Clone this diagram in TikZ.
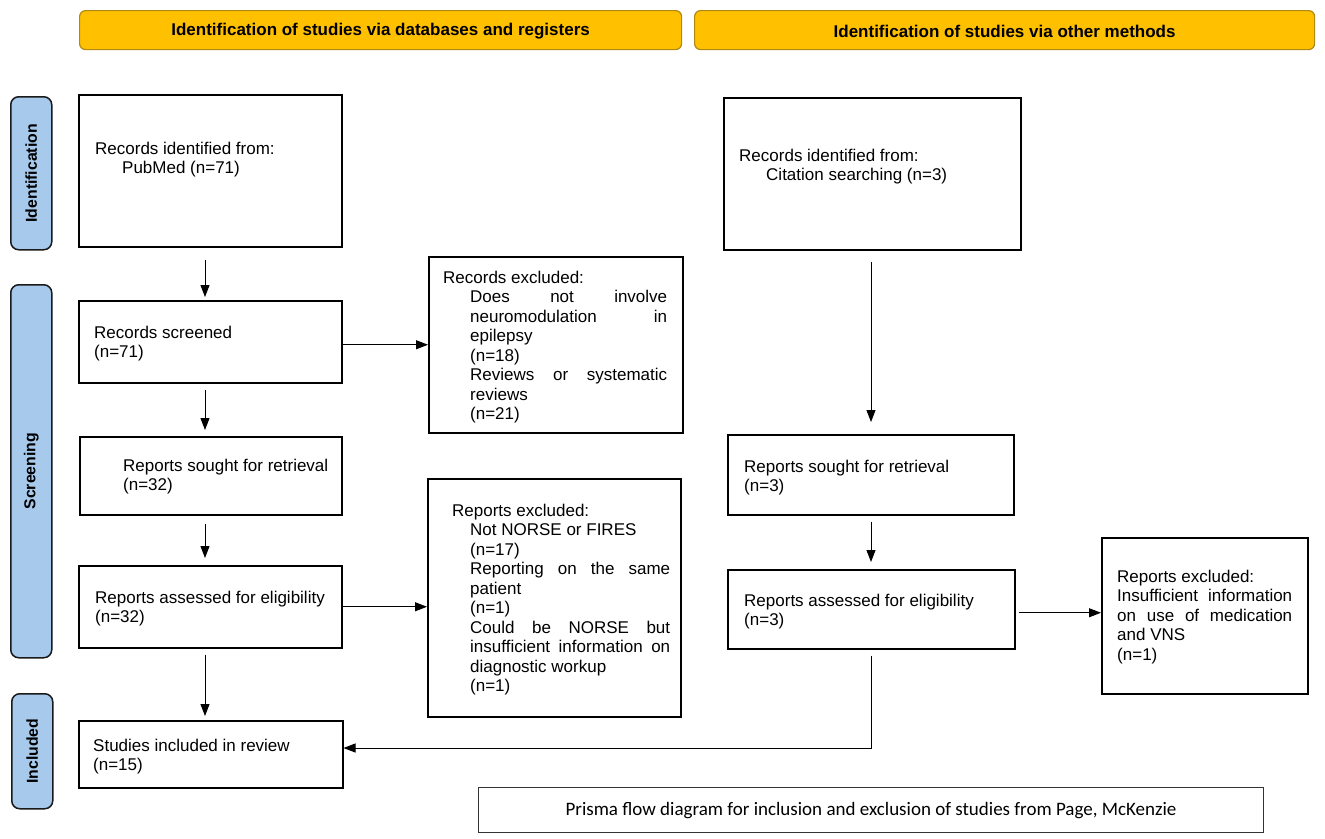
\documentclass[tikz,border=0pt]{standalone}
\usepackage{fontspec}
\setmainfont{Liberation Sans}
\newfontfamily\capfont{Carlito}
\usetikzlibrary{arrows.meta,calc}
\definecolor{hdrfill}{HTML}{FFC000}
\definecolor{hdrdraw}{HTML}{B08A10}
\definecolor{sidefill}{HTML}{A6C9EC}
\definecolor{sidedraw}{HTML}{1A1A1A}
\newcommand\jb[2]{\makebox[#1][s]{#2}}
\hyphenpenalty=10000
\begin{document}
\begin{tikzpicture}[x=1pt,y=-1pt,
  box/.style={draw=black,line width=1.5pt,inner sep=0pt,anchor=north west},
  capbox/.style={draw=black!80,line width=1.1pt,inner sep=0pt,anchor=north west},
  hdr/.style={draw=hdrdraw,fill=hdrfill,line width=1.2pt,rounded corners=6pt,inner sep=0pt,anchor=north west},
  hdrtxt/.style={inner sep=0pt,font=\bfseries\fontsize{17}{19}\selectfont},
  side/.style={draw=sidedraw,fill=sidefill,line width=1.5pt,rounded corners=8pt,inner sep=0pt,anchor=north west},
  sidetxt/.style={rotate=90,inner sep=0pt,font=\bfseries\fontsize{15.8}{17}\selectfont},
  txt/.style={inner sep=0pt,anchor=base west,font=\fontsize{17}{19.5}\selectfont},
  arr/.style={line width=1pt,-{Triangle[width=9pt,length=12pt]}},
  ln/.style={line width=1pt}
]
\useasboundingbox (0,0) rectangle (1325,838);
\fill[white] (0,0) rectangle (1325,838);

% headers
\node[hdr,minimum width=602pt,minimum height=39pt] (h1) at (79,10) {};
\node[hdrtxt] (h1t) at ([yshift=-1pt]h1.center) {Identification of studies via databases and registers};
\node[hdr,minimum width=620pt,minimum height=39pt] (h2) at (694,10) {};
\node[hdrtxt] (h2t) at ([yshift=-1pt]h2.center) {Identification of studies via other methods};

% side bars
\node[side,minimum width=41pt,minimum height=153pt] (s1) at (10,96) {};
\node[sidetxt] (s1t) at (s1.center) {Identification};
\node[side,minimum width=41pt,minimum height=373pt] (s2) at (10,284) {};
\node[sidetxt] (s2t) at (s2.center) {Screening};
\node[side,minimum width=41pt,minimum height=115pt] (s3) at (11,693) {};
\node[sidetxt] (s3t) at (s3.center) {Included};

% left column boxes
\node[box,minimum width=263pt,minimum height=152pt] (A) at (78,94) {};
\node[box,minimum width=263pt,minimum height=82pt] (B) at (78,300) {};
\node[box,minimum width=254pt,minimum height=176pt] (C) at (428,256) {};
\node[box,minimum width=262pt,minimum height=78pt] (D) at (79,436) {};
\node[box,minimum width=263pt,minimum height=82pt] (E) at (78,565) {};
\node[box,minimum width=253pt,minimum height=238pt] (F) at (427,478) {};
\node[box,minimum width=264pt,minimum height=67pt] (G) at (78,720) {};

% right column boxes
\node[box,minimum width=297pt,minimum height=152pt] (H) at (723,97) {};
\node[box,minimum width=286pt,minimum height=80pt] (I) at (727,434) {};
\node[box,minimum width=287pt,minimum height=79pt] (J) at (727,569) {};
\node[box,minimum width=206pt,minimum height=156pt] (K) at (1101,537) {};

% caption
\node[capbox,minimum width=785pt,minimum height=45pt] (cap) at (478,787) {};
\node[inner sep=0pt,font=\capfont\fontsize{19}{22}\selectfont] (capt) at (cap.center) {Prisma flow diagram for inclusion and exclusion of studies from Page, McKenzie};

% texts
\node[txt] (tA) at (95,154) {\parbox[t]{240pt}{\raggedright Records identified from:\\\hspace*{27pt}PubMed (n=71)}};
\node[txt] (tB) at (94,338) {\parbox[t]{240pt}{\raggedright Records screened\\(n=71)}};
\node[txt] (tC) at (443,283) {\parbox[t]{235pt}{\raggedright Records excluded:\\
\hspace*{27pt}\jb{197pt}{Does not involve}\\
\hspace*{27pt}\jb{197pt}{neuromodulation in}\\
\hspace*{27pt}epilepsy\\
\hspace*{27pt}(n=18)\\
\hspace*{27pt}\jb{197pt}{Reviews or systematic}\\
\hspace*{27pt}reviews\\
\hspace*{27pt}(n=21)}};
\node[txt] (tD) at (123,471) {\parbox[t]{260pt}{\raggedright Reports sought for retrieval\\(n=32)}};
\node[txt] (tE) at (95,603) {\parbox[t]{260pt}{\raggedright Reports assessed for eligibility\\(n=32)}};
\node[txt] (tF) at (452,516) {\parbox[t]{225pt}{\raggedright Reports excluded:\\
\hspace*{18pt}Not NORSE or FIRES\\
\hspace*{18pt}(n=17)\\
\hspace*{18pt}\jb{200pt}{Reporting on the same}\\
\hspace*{18pt}patient\\
\hspace*{18pt}(n=1)\\
\hspace*{18pt}\jb{200pt}{Could be NORSE but}\\
\hspace*{18pt}\jb{200pt}{insufficient information on}\\
\hspace*{18pt}diagnostic workup\\
\hspace*{18pt}(n=1)}};
\node[txt] (tG) at (93,751) {\parbox[t]{240pt}{\raggedright Studies included in review\\(n=15)}};
\node[txt] (tH) at (739,161) {\parbox[t]{270pt}{\raggedright Records identified from:\\\hspace*{27pt}Citation searching (n=3)}};
\node[txt] (tI) at (744,472) {\parbox[t]{260pt}{\raggedright Reports sought for retrieval\\(n=3)}};
\node[txt] (tJ) at (744,606) {\parbox[t]{260pt}{\raggedright Reports assessed for eligibility\\(n=3)}};
\node[txt] (tK) at (1117,582) {\parbox[t]{180pt}{\raggedright Reports excluded:\\
\jb{175pt}{Insufficient information}\\
\jb{175pt}{on use of medication}\\
and VNS\\
(n=1)}};

% connectors
\coordinate (lc) at (205,0);
\coordinate (rc) at (871,0);
\draw[arr,shorten <=12pt,shorten >=3pt] (A.south -| lc) -- (B.north -| lc);
\draw[arr,shorten <=6pt,shorten >=6pt] (B.south -| lc) -- (D.north -| lc);
\draw[arr,shorten <=8pt,shorten >=7pt] (D.south -| lc) -- (E.north -| lc);
\draw[arr,shorten <=6pt,shorten >=4pt] (E.south -| lc) -- (G.north -| lc);
\draw[arr] (B.east |- C.west) -- (C.west);
\draw[arr] (E.east) -- (E.east -| F.west);
\draw[arr,shorten <=11pt,shorten >=12pt] (H.south -| rc) -- (I.north -| rc);
\draw[arr,shorten <=6pt,shorten >=7pt] (I.south -| rc) -- (J.north -| rc);
\coordinate (jk) at ([yshift=-3.5pt]J.east);
\draw[arr,shorten <=3pt] (jk) -- (jk -| K.west);
\coordinate (jy) at (0,748);
\draw[arr,shorten <=6pt] (J.south -| rc) -- (rc |- jy) -- (G.east |- jy);
\end{tikzpicture}
\end{document}
